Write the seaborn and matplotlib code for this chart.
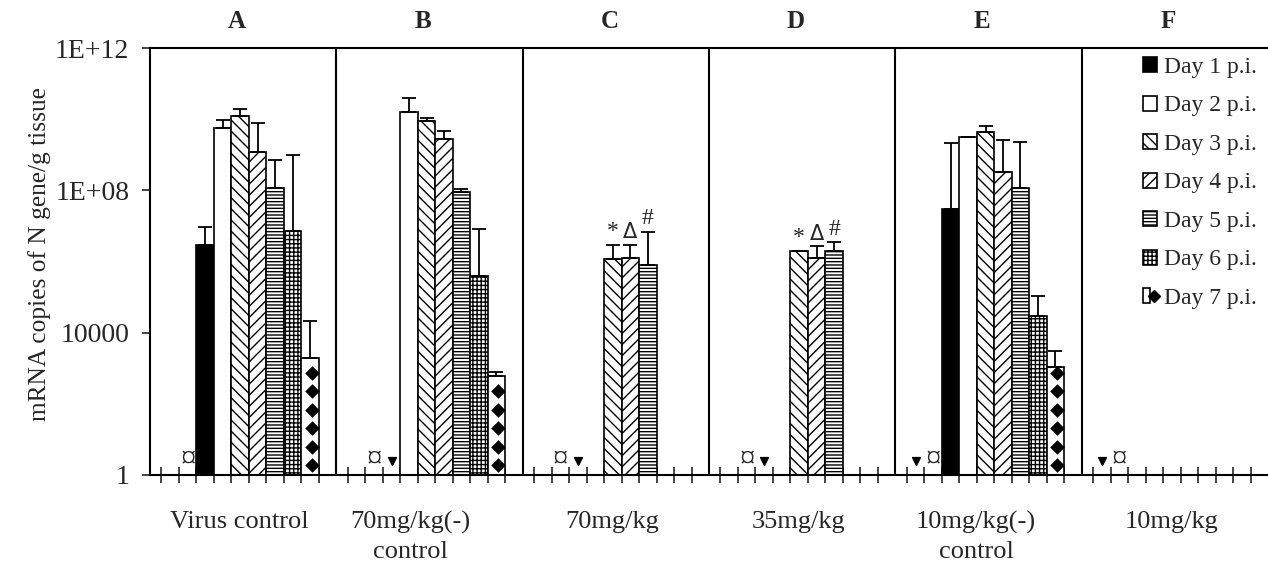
import matplotlib
matplotlib.use("Agg")
import matplotlib.pyplot as plt
import seaborn as sns
import pandas as pd
import numpy as np
from matplotlib.patches import Patch
from matplotlib.lines import Line2D
from matplotlib.legend_handler import HandlerTuple
from matplotlib.ticker import NullLocator

sns.set_style("ticks")
plt.rcParams['font.family'] = ['Liberation Serif', 'DejaVu Serif']
plt.rcParams['hatch.linewidth'] = 1.0

nan = np.nan
days = ['Day 1 p.i.', 'Day 2 p.i.', 'Day 3 p.i.', 'Day 4 p.i.',
        'Day 5 p.i.', 'Day 6 p.i.', 'Day 7 p.i.']
panels = ['A', 'B', 'C', 'D', 'E', 'F']
groups = ['Virus control', '70mg/kg(-)\ncontrol', '70mg/kg',
          '35mg/kg', '10mg/kg(-)\ncontrol', '10mg/kg']

# mean copies per day (Day 1 .. Day 7), NaN = no bar
copies_A = [2.9e6, 5.6e9, 1.2e10, 1.2e9, 1.2e8, 7.1e6, 1.9e3]
copies_B = [nan, 1.6e10, 8.7e9, 2.8e9, 8.9e7, 3.9e5, 600]
copies_C = [nan, nan, 1.2e6, 1.26e6, 7.9e5, nan, nan]
copies_D = [nan, nan, 1.95e6, 1.26e6, 1.95e6, nan, nan]
copies_E = [3.0e7, 3.1e9, 4.3e9, 3.2e8, 1.2e8, 3.0e4, 1.1e3]
copies_F = [nan] * 7

# upper error (SD)
err_A = [6.4e6, 3.7e9, 7.0e9, 6.6e9, 5.9e8, 9.7e8, 2.0e4]
err_B = [nan, 2.3e10, 2.0e9, 1.8e9, 1.8e7, 7.7e6, 180]
err_C = [nan, nan, 1.7e6, 1.6e6, 6.0e6, nan, nan]
err_D = [nan, nan, 5e4, 1.4e6, 1.5e6, nan, nan]
err_E = [2.1e9, 0, 2.0e9, 2.3e9, 2.1e9, 7.7e4, 1.9e3]
err_F = [nan] * 7

# significance signs on Day 3/4/5 bars of C and D
sig_signs = ['*', 'Δ', '#']
sig_groups = [2, 3]
sig_days = [2, 3, 4]

# "not detected" symbols near the baseline (slot numbers in each group)
cur_slot = [2, 2, 2, 2, 2, 2]
tri_slot = [None, 3, 3, 3, 1, 1]

copies = [copies_A, copies_B, copies_C, copies_D, copies_E, copies_F]
errs = [err_A, err_B, err_C, err_D, err_E, err_F]

G = 186.5 / 17.5       # group width in bar slots
OFF = G - 10
label_shift = [0, -0.9, 0, 0, -0.5, 0]


def slot_x(g, k):
    return g * G + OFF + k - 0.5


rows = []
for g in range(6):
    for d in range(7):
        if not np.isnan(copies[g][d]):
            rows.append({'x': slot_x(g, d + 3), 'copies': copies[g][d],
                         'err': errs[g][d], 'day': days[d], 'g': g, 'd': d})
df = pd.DataFrame(rows)

pal = {day: ('black' if i == 0 else 'white') for i, day in enumerate(days)}
hatches = ['', '', '\\\\\\', '///', '-----', '++++', '']

fig = plt.figure(figsize=(12.68, 5.69), dpi=100)
ax = fig.add_axes([150 / 1268, 94 / 569, 1118 / 1268, 427 / 569])

sns.barplot(data=df, x='x', y='copies', hue='day', hue_order=days, palette=pal,
            native_scale=True, dodge=False, width=1, edgecolor='black',
            linewidth=1.2, errorbar=None, legend=False, ax=ax)
ax.set_yscale('log')
ax.set_ylim(1, 1e12)
ax.set_xlim(0, 6 * G)

day_at = {round(r.x, 3): r.d for r in df.itertuples()}
for p in ax.patches:
    cx = round(p.get_x() + p.get_width() / 2, 3)
    if cx in day_at:
        p.set_hatch(hatches[day_at[cx]])
        if day_at[cx] == 6:
            yy = 10 ** (0.28 + 0.52 * np.arange(20))
            yy = yy[yy < p.get_height()]
            pts = ax.scatter(np.full(len(yy), cx + 0.1), yy, marker='D', s=55,
                             color='black', linewidths=0, zorder=3)
            pts.set_clip_path(p)

ax.errorbar(df['x'], df['copies'], yerr=[np.zeros(len(df)), df['err']],
            fmt='none', ecolor='black', elinewidth=1.3, capsize=5, capthick=1.3,
            zorder=4)

for g in sig_groups:
    for s, d in zip(sig_signs, sig_days):
        top = copies[g][d] + errs[g][d]
        ax.annotate(s, (slot_x(g, d + 3), top), xytext=(0, 2),
                    textcoords='offset points', ha='center', va='bottom',
                    fontsize=17 if s != 'Δ' else 15,
                    family=['DejaVu Sans'] if s == 'Δ' else None)

for g in range(6):
    ax.text(slot_x(g, cur_slot[g]), 2.5, '¤', ha='center', va='center',
            fontsize=22)
    if tri_slot[g] is not None:
        ax.scatter([slot_x(g, tri_slot[g])], [2.4], marker='v', s=32,
                   color='black', zorder=3)

for g in range(1, 6):
    ax.axvline(g * G, color='black', lw=1.5)

xt = [g * G + OFF + k for g in range(6) for k in range(10)]
ax.set_xticks(xt)
ax.set_xticklabels([])
ax.xaxis.set_minor_locator(NullLocator())
ax.tick_params(axis='x', direction='inout', length=12, width=1.2)
ax.set_xlabel('')

ax.set_yticks([1, 1e4, 1e8, 1e12])
ax.set_yticklabels(['1', '10000', '1E+08', '1E+12'])
ax.yaxis.set_minor_locator(NullLocator())
ax.tick_params(axis='y', direction='out', length=6, width=1.2, labelsize=20, pad=9)
ax.set_ylabel('')

for sp in ['left', 'bottom', 'top']:
    ax.spines[sp].set_visible(True)
    ax.spines[sp].set_linewidth(1.5)
    ax.spines[sp].set_color('black')
ax.spines['right'].set_visible(False)

tr = ax.get_xaxis_transform()
for g in range(6):
    ax.text(g * G + 0.466 * G, 1.063, panels[g], transform=tr, ha='center',
            va='center', fontsize=18, fontweight='bold')
    ax.text(g * G + 0.48 * G + label_shift[g], -0.085, groups[g], transform=tr,
            ha='center', va='top', fontsize=19, linespacing=1.4)

fig.text(40 / 1268, 0.553, 'mRNA copies of N gene/g tissue', rotation=90,
         ha='center', va='center', fontsize=18.3)

handles = []
for i in range(7):
    sq = Patch(facecolor=pal[days[i]], edgecolor='black', hatch=hatches[i], lw=1.2)
    if i == 6:
        handles.append((sq, Line2D([], [], marker='D', ls='', color='black', ms=6)))
    else:
        handles.append(sq)
ax.legend(handles, days, loc='upper right', bbox_to_anchor=(1257 / 1268, 512 / 569),
          bbox_transform=fig.transFigure, frameon=False, fontsize=17,
          handlelength=0.6, handleheight=0.6, handletextpad=0.3,
          labelspacing=0.74, borderpad=0, borderaxespad=0,
          handler_map={tuple: HandlerTuple(ndivide=None)})

fig.savefig('out.png', dpi=100)
